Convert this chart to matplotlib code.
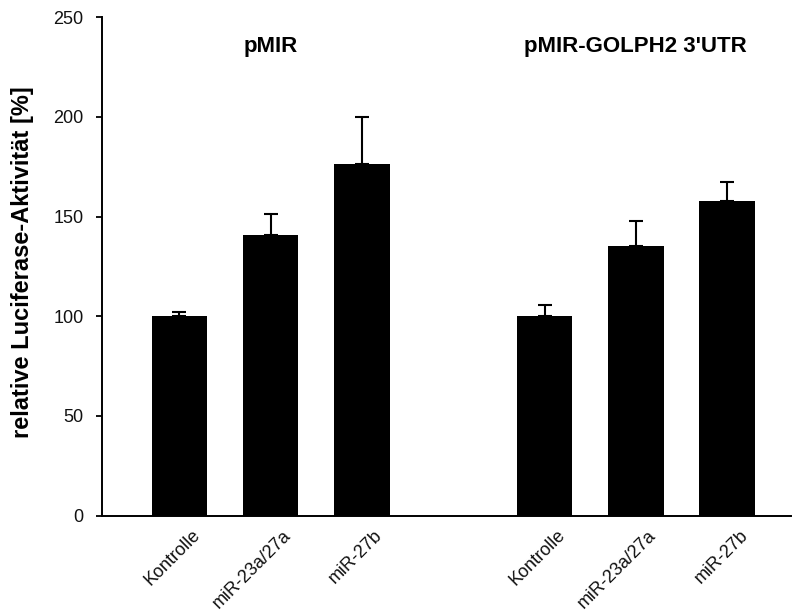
import matplotlib
matplotlib.use("Agg")
import matplotlib.pyplot as plt
import matplotlib.transforms as mtransforms
import numpy as np

plt.rcParams['font.family'] = ['Liberation Sans', 'DejaVu Sans']

groups = ["pMIR", "pMIR-GOLPH2 3'UTR"]
categories = ["Kontrolle", "miR-23a/27a", "miR-27b"]
values_pmir = [100.1, 140.9, 176.3]
errors_pmir = [1.9, 10.6, 23.8]
values_golph2 = [100.3, 135.4, 158.0]
errors_golph2 = [5.4, 12.3, 9.2]
yticks = [0, 50, 100, 150, 200, 250]

fig = plt.figure(figsize=(7.95, 6.12), dpi=100)
ax = fig.add_axes([0.128, 0.1575, 0.867, 0.8145])

pos1 = np.arange(3)
pos2 = np.arange(3) + 4
width = 0.61
ekw = dict(ecolor='black', elinewidth=1.5, capsize=5.2, capthick=1.5)
ax.bar(pos1, values_pmir, width, color='black',
       yerr=[np.zeros(3), errors_pmir], error_kw=ekw)
ax.bar(pos2, values_golph2, width, color='black',
       yerr=[np.zeros(3), errors_golph2], error_kw=ekw)

ax.set_xlim(-0.85, 6.7)
ax.set_ylim(0, 250)
ax.set_yticks(yticks)
ax.set_yticklabels([str(t) for t in yticks], fontsize=13, color='#111111')
ax.set_xticks(list(pos1) + list(pos2))
ax.set_xticklabels(categories + categories, rotation=45, ha='right',
                   va='top', rotation_mode='anchor', fontsize=13,
                   color='#111111')
ax.tick_params(axis='x', length=0, pad=8)
ax.tick_params(axis='y', length=4, width=1.3, direction='out', pad=9)
offset = mtransforms.ScaledTranslation(12 / 100, 0, fig.dpi_scale_trans)
for lab in ax.get_xticklabels():
    lab.set_transform(lab.get_transform() + offset)
for s in ['top', 'right']:
    ax.spines[s].set_visible(False)
for s in ['left', 'bottom']:
    ax.spines[s].set_linewidth(1.4)

fig.text(23 / 795, 1 - 262 / 612, "relative Luciferase-Aktivität [%]",
         rotation=90, ha='center', va='center', fontsize=17,
         fontweight='bold')

ax.text(pos1[1], 235.2, groups[0], ha='center', va='center',
        fontsize=16, fontweight='bold')
ax.text(pos2[1], 235.2, groups[1], ha='center', va='center',
        fontsize=16, fontweight='bold')

fig.savefig("out.png", dpi=100)
